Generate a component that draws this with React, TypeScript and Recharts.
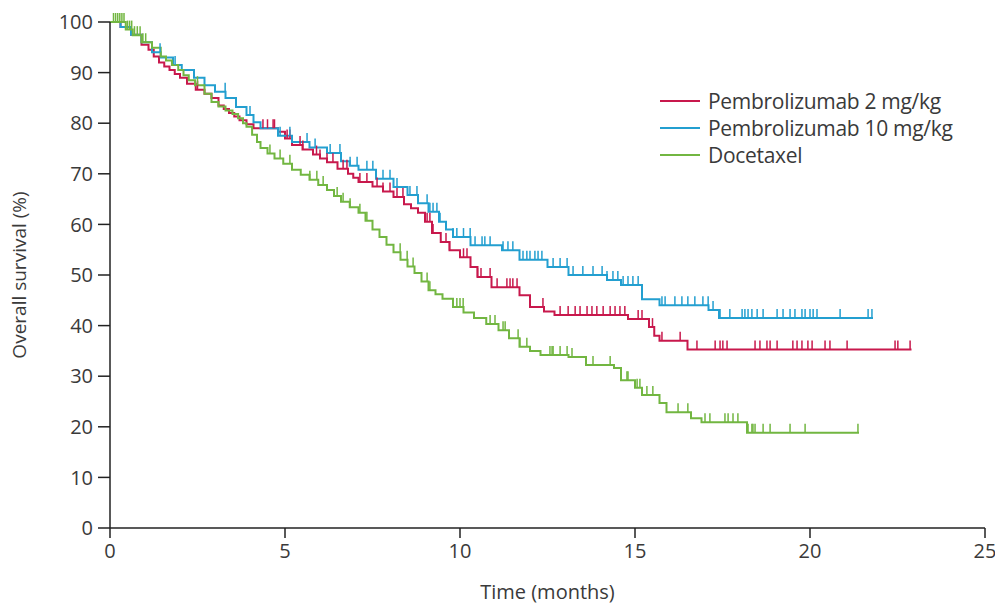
import {
  ComposedChart,
  Label,
  Line,
  Scatter,
  XAxis,
  YAxis,
} from "recharts";

// Kaplan-Meier step points: [months, overall survival %]
const pembro2: [number, number][] = [
  [0, 100], [0.3, 99], [0.6, 97.5], [0.9, 95.5], [1.1, 94.5], [1.25, 93.2], [1.4, 92],
  [1.55, 91.2], [1.7, 90.5], [1.85, 89.7], [2.0, 89], [2.2, 87.8], [2.45, 86.6], [2.7, 85.8],
  [2.9, 85], [3.1, 83.5], [3.25, 82.8], [3.4, 82], [3.55, 81.3], [3.7, 80.6], [3.9, 79.8],
  [4.1, 79], [4.8, 78.3], [5.0, 77], [5.2, 75.7], [5.5, 74.8], [5.8, 73.8], [6.0, 73],
  [6.2, 72.3], [6.5, 71], [6.8, 70], [6.95, 69.2], [7.1, 68.4], [7.5, 67.5], [7.8, 66.5],
  [8.1, 65.4], [8.4, 64], [8.6, 63.2], [8.8, 62.3], [9.0, 60.5], [9.2, 58.3], [9.45, 56.5],
  [9.7, 54.9], [10.0, 53.5], [10.3, 51.6], [10.5, 49.6], [10.9, 47.6], [11.7, 46],
  [12.0, 43.7], [12.4, 42.8], [12.7, 42.1], [14.8, 41.3], [15.4, 39.7], [15.55, 38],
  [15.7, 37], [16.5, 35.3], [22.9, 35.3],
];

const pembro10: [number, number][] = [
  [0, 100], [0.3, 99], [0.6, 97.5], [0.9, 96], [1.2, 94], [1.45, 93], [1.8, 91.5],
  [2.05, 90.5], [2.4, 89], [2.7, 87.5], [3.0, 86.2], [3.3, 85], [3.6, 83.2], [3.9, 81.6],
  [4.1, 80.2], [4.3, 79], [4.8, 77.5], [5.2, 76.3], [5.7, 75.2], [6.2, 74.1], [6.6, 72.5],
  [6.85, 71.6], [7.1, 70.8], [7.6, 69], [8.1, 67.4], [8.5, 65.8], [8.8, 64.2], [9.1, 62.5],
  [9.4, 60.5], [9.6, 59], [9.8, 57.5], [10.3, 55.9], [11.2, 54.9], [11.7, 53], [12.5, 51.6],
  [13.1, 50], [14.2, 49], [14.6, 48], [15.2, 45.2], [15.7, 44], [17.1, 43.1], [17.4, 41.5],
  [21.8, 41.5],
];

const docetaxel: [number, number][] = [
  [0, 100], [0.45, 98.5], [0.65, 97.4], [0.9, 96], [1.2, 94.9], [1.45, 93.2], [1.6, 92.4],
  [1.77, 91.5], [1.95, 90.5], [2.1, 89.5], [2.25, 88.5], [2.43, 87.5], [2.7, 85.8],
  [2.9, 84.2], [3.1, 83.3], [3.3, 82.5], [3.5, 81.8], [3.66, 81], [3.8, 80], [3.9, 79.3],
  [4.06, 77.7], [4.2, 76.3], [4.3, 75.1], [4.5, 74], [4.7, 73], [4.95, 72], [5.2, 70.8],
  [5.45, 69.8], [5.7, 68.8], [5.95, 67.8], [6.2, 66.8], [6.4, 65.6], [6.6, 64.5],
  [6.85, 63.4], [7.1, 62.3], [7.3, 60.7], [7.5, 59], [7.7, 57.5], [7.9, 56], [8.1, 54.5],
  [8.3, 53], [8.5, 51.7], [8.7, 50.4], [8.9, 48.7], [9.1, 47], [9.3, 46.2], [9.5, 45.3],
  [9.8, 43.7], [10.1, 42.6], [10.4, 41.5], [10.75, 40.3], [11.1, 39.1], [11.4, 37.5],
  [11.7, 35.8], [12.0, 35], [12.3, 34.2], [13.1, 33.8], [13.6, 32.2], [14.4, 31.6],
  [14.6, 29.2], [15.0, 27.7], [15.2, 26.3], [15.7, 24.7], [15.9, 22.9], [16.6, 21.7],
  [16.9, 20.9], [18.2, 18.8], [21.4, 18.8],
];

// censoring times (months)
const pembro2Censored = [
  2.5, 4.5, 4.7, 4.37, 4.66, 5.06, 5.14, 5.43, 5.51, 5.9, 6.0, 6.2, 6.37, 6.66, 6.77,
  7.14, 7.34, 7.63, 7.8, 8.0, 8.2, 8.37, 9.06, 9.14, 9.23, 9.6, 9.7, 10.1, 10.2, 10.5,
  10.6, 10.86, 11.06, 11.34, 11.43, 11.51, 11.63, 12.0, 12.37, 12.86, 13.09, 13.29,
  13.43, 13.63, 13.77, 13.91, 14.09, 14.29, 14.43, 14.57, 14.71, 15.09, 15.2, 15.4,
  15.5, 15.77, 16.29, 16.77, 17.29, 17.43, 17.51, 17.63, 18.43, 18.57, 18.77, 18.86,
  19.06, 19.51, 19.63, 19.77, 19.94, 20.06, 20.43, 20.57, 21.06, 22.43, 22.51, 22.86,
];

const pembro10Censored = [
  1.43, 1.86, 3.29, 4.0, 4.86, 5.14, 5.63, 5.86, 6.29, 6.57, 6.86, 7.06, 7.34, 7.51,
  7.8, 8.0, 8.2, 8.57, 8.77, 9.06, 9.14, 9.23, 9.34, 9.43, 9.8, 9.91, 10.1, 10.29,
  10.43, 10.63, 10.71, 10.86, 11.23, 11.37, 11.51, 11.8, 11.91, 12.0, 12.14, 12.23,
  12.34, 12.66, 12.86, 13.06, 13.23, 13.51, 13.8, 14.06, 14.2, 14.37, 14.51, 14.66,
  14.8, 14.94, 15.09, 15.77, 15.86, 16.14, 16.34, 16.51, 16.71, 16.94, 17.09, 17.23,
  17.43, 17.71, 18.06, 18.14, 18.23, 18.34, 18.49, 18.66, 19.06, 19.23, 19.43, 19.57,
  19.77, 19.86, 20.0, 20.09, 20.2, 20.86, 21.66, 21.77,
];

const docetaxelCensored = [
  0.1, 0.16, 0.22, 0.28, 0.34, 0.4, 0.5, 0.56, 0.62, 0.7, 0.78, 0.86, 0.94, 1.02,
  2.5, 4.57, 4.86, 5.14, 5.71, 5.91, 6.09, 6.49, 6.66, 6.86, 7.14, 7.34, 8.29, 8.49,
  8.66, 9.06, 9.14, 9.91, 10.0, 10.09, 10.86, 11.0, 11.23, 11.29, 11.66, 11.71, 11.91,
  12.57, 12.63, 12.66, 12.86, 13.06, 13.2, 13.8, 14.29, 14.77, 14.8, 15.06, 15.14,
  15.34, 15.51, 16.23, 16.51, 17.0, 17.14, 17.57, 17.66, 17.8, 17.94, 18.23, 18.34,
  18.37, 18.43, 18.66, 18.86, 19.43, 19.86, 21.37,
];

const xTicks = [0, 5, 10, 15, 20, 25];
const yTicks = [0, 10, 20, 30, 40, 50, 60, 70, 80, 90, 100];

const RED = "#c8184c";
const BLUE = "#239fd0";
const GREEN = "#72b641";
const TEXT = "#3a3a3a";
const FONT = "'Open Sans', sans-serif";

const toRows = (pts: [number, number][]) => pts.map(([t, s]) => ({ t, s }));

// survival value of a step curve at a given time
function atTime(pts: [number, number][], t: number) {
  let s = pts[0][1];
  for (const [pt, ps] of pts) {
    if (pt <= t) s = ps;
    else break;
  }
  return s;
}

const censorRows = (pts: [number, number][], times: number[]) =>
  times.map((t) => ({ t, s: atTime(pts, t) }));

const series = [
  { name: "Pembrolizumab 2 mg/kg", color: RED, pts: pembro2, cens: pembro2Censored },
  { name: "Pembrolizumab 10 mg/kg", color: BLUE, pts: pembro10, cens: pembro10Censored },
  { name: "Docetaxel", color: GREEN, pts: docetaxel, cens: docetaxelCensored },
];

function CensorTick(color: string) {
  return (props: any) => {
    const { cx, cy } = props;
    return <line x1={cx} y1={cy} x2={cx} y2={cy - 9} stroke={color} strokeWidth={1.5} />;
  };
}

function KmLegend() {
  return (
    <div
      style={{
        position: "absolute",
        left: 660,
        top: 87,
        fontFamily: FONT,
        fontSize: 21,
        color: TEXT,
        letterSpacing: -0.3,
      }}
    >
      {series.map((s) => (
        <div key={s.name} style={{ display: "flex", alignItems: "center", height: 27 }}>
          <span style={{ width: 40, height: 2, background: s.color, marginRight: 8 }} />
          <span>{s.name}</span>
        </div>
      ))}
    </div>
  );
}

export default function App() {
  return (
    <div style={{ position: "absolute", left: 0, top: 0, width: 995, height: 605, background: "#fff" }}>
      <ComposedChart width={995} height={605} margin={{ top: 22, right: 10, bottom: 0, left: 0 }}>
        <XAxis
          type="number"
          dataKey="t"
          domain={[0, 25]}
          ticks={xTicks}
          height={77}
          allowDataOverflow
          stroke="#222"
          strokeWidth={1.5}
          tickSize={10}
          tickMargin={6}
          tick={{ fill: TEXT, fontSize: 20, fontFamily: FONT }}
        >
          <Label
            content={({ viewBox }: any) => (
              <text
                x={viewBox.x + viewBox.width / 2}
                y={viewBox.y + 71}
                textAnchor="middle"
                fill={TEXT}
                fontSize={20}
                fontFamily={FONT}
              >
                Time (months)
              </text>
            )}
          />
        </XAxis>
        <YAxis
          type="number"
          dataKey="s"
          domain={[0, 100]}
          ticks={yTicks}
          width={110}
          stroke="#222"
          strokeWidth={1.5}
          tickSize={12}
          tickMargin={5}
          tick={{ fill: TEXT, fontSize: 20, fontFamily: FONT }}
        >
          <Label
            content={({ viewBox }: any) => {
              const x = viewBox.x + 26;
              const y = viewBox.y + viewBox.height / 2;
              return (
                <text
                  x={x}
                  y={y}
                  transform={`rotate(-90 ${x} ${y})`}
                  textAnchor="middle"
                  fill={TEXT}
                  fontSize={19}
                  fontFamily={FONT}
                >
                  Overall survival (%)
                </text>
              );
            }}
          />
        </YAxis>
        {series.map((s) => (
          <Line
            key={s.name}
            data={toRows(s.pts)}
            dataKey="s"
            type="stepAfter"
            stroke={s.color}
            strokeWidth={2}
            dot={false}
            isAnimationActive={false}
            legendType="none"
          />
        ))}
        {series.map((s) => (
          <Scatter
            key={s.name + "-cens"}
            data={censorRows(s.pts, s.cens)}
            dataKey="s"
            shape={CensorTick(s.color)}
            isAnimationActive={false}
            legendType="none"
          />
        ))}
      </ComposedChart>
      <KmLegend />
    </div>
  );
}
